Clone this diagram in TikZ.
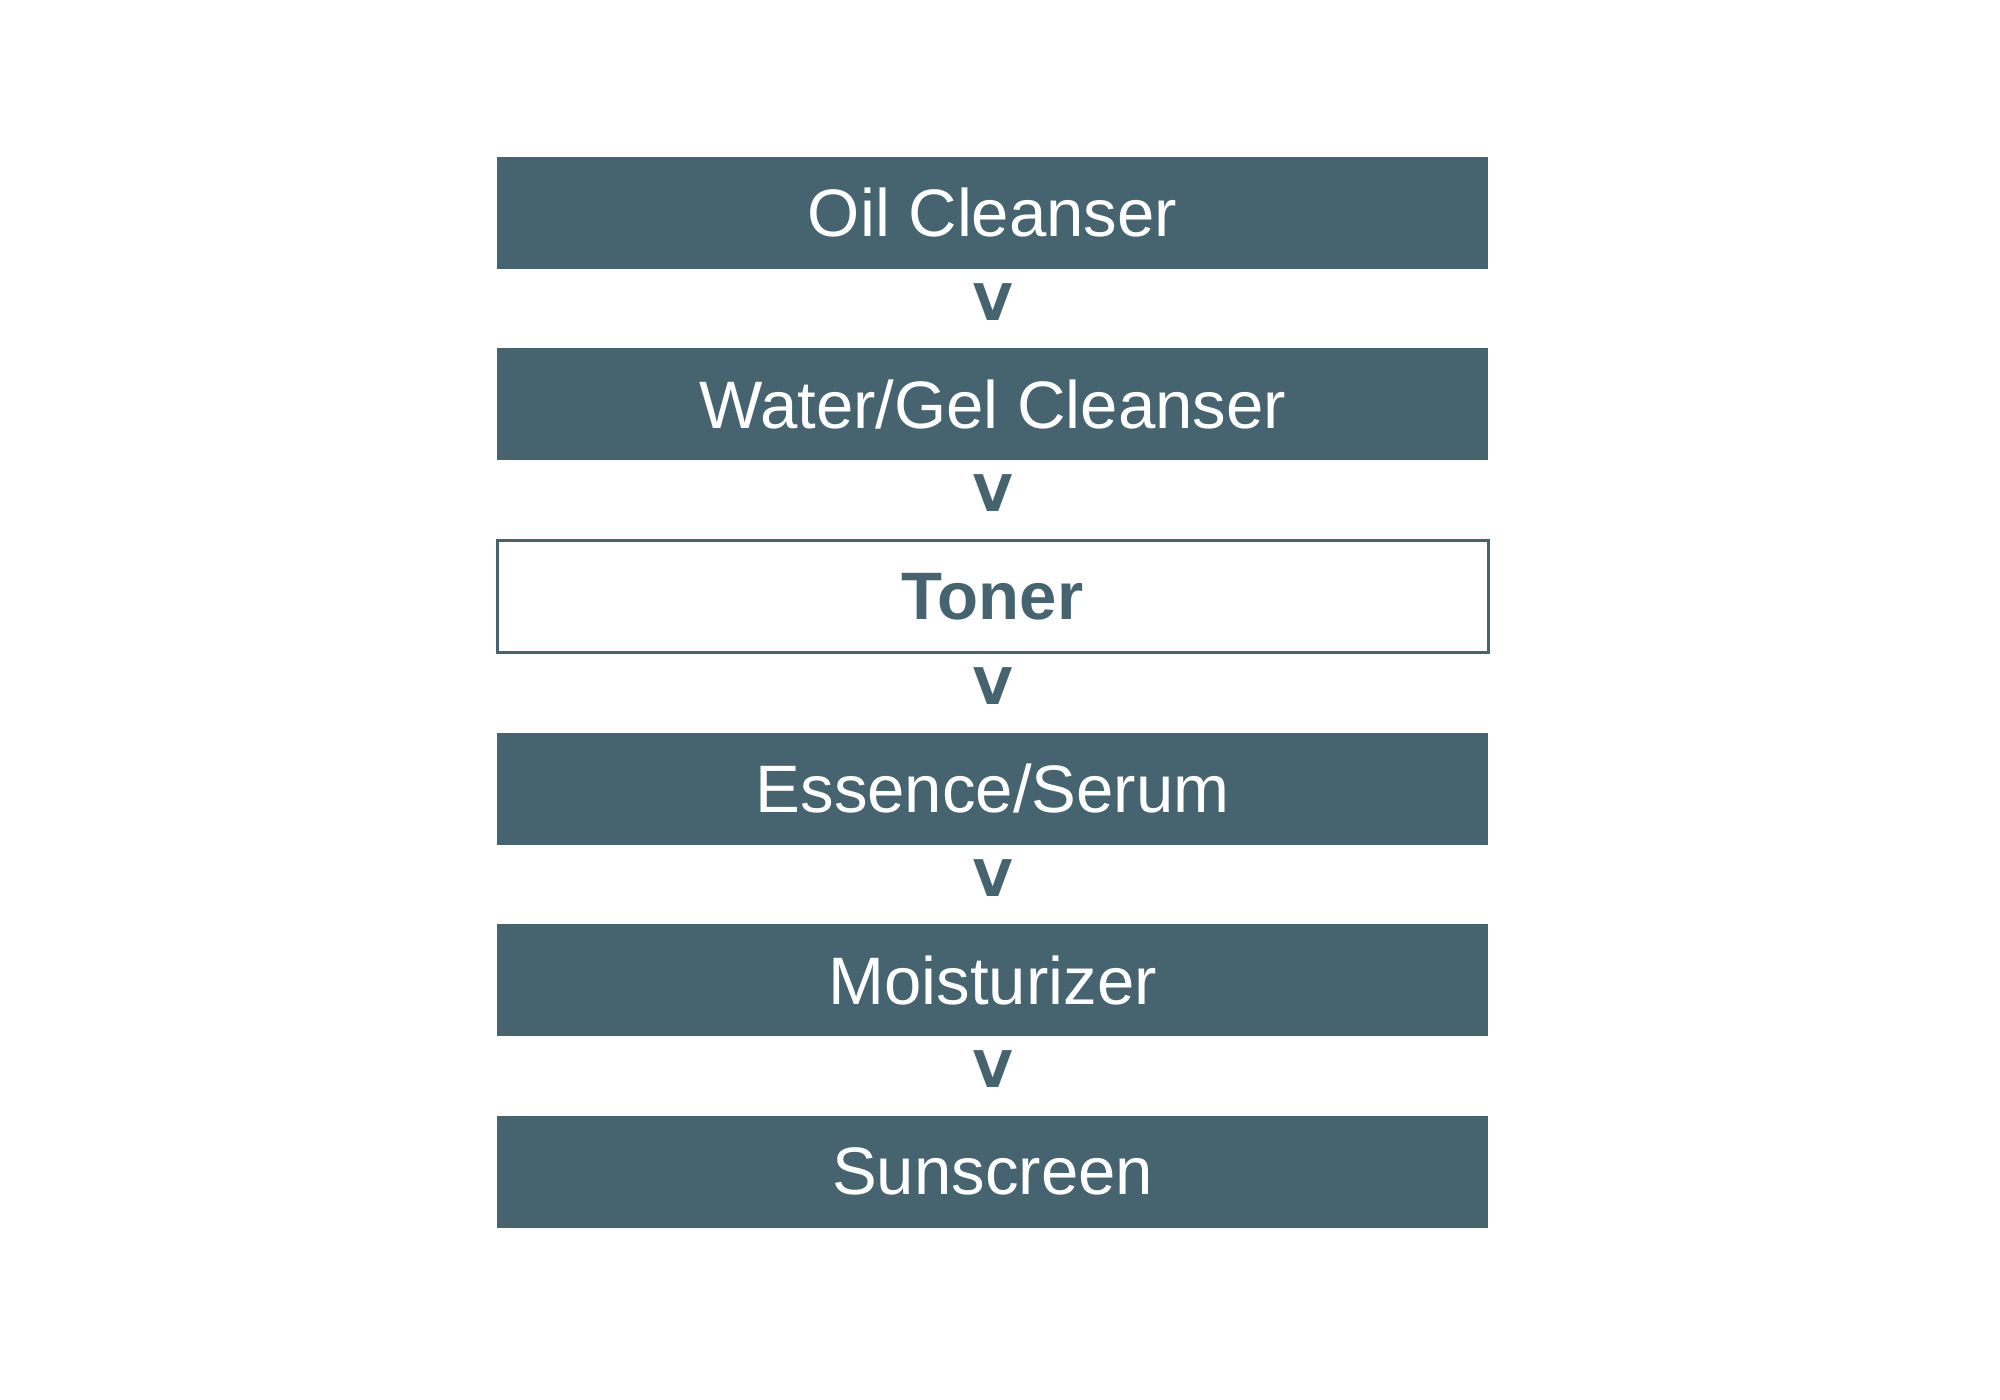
\documentclass[tikz,border=0pt]{standalone}
\usepackage{fontspec}
\setmainfont{Liberation Sans}
\newfontfamily\vfont{DejaVu Sans}
\usetikzlibrary{positioning,calc}

\definecolor{slate}{HTML}{466370}

\tikzset{
    stepbox/.style={rectangle, fill=slate, text=white, minimum width=9.91cm,
        minimum height=1.12cm, inner sep=0pt,
        font=\fontsize{19.1}{22}\selectfont},
    keybox/.style={stepbox, fill=white, draw=slate, line width=0.9pt,
        text=slate, font=\fontsize{19.1}{22}\selectfont\bfseries},
    vmark/.style={text=slate, inner sep=0pt, font=\vfont\fontsize{14.4}{17}\selectfont\bfseries}
}

\begin{document}
\begin{tikzpicture}

\fill [white] (0,0) rectangle (20,14);
\useasboundingbox (0,0) rectangle (20,14);

\node [stepbox] (oil) at (9.926,11.87) {Oil Cleanser};
\node [stepbox, below=0.78cm of oil] (water) {Water/Gel Cleanser};
\node [keybox, below=0.78cm of water] (toner) {Toner};
\node [stepbox, below=0.78cm of toner] (essence) {Essence/Serum};
\node [stepbox, below=0.78cm of essence] (moist) {Moisturizer};
\node [stepbox, below=0.78cm of moist] (sun) {Sunscreen};

\foreach \a/\b in {oil/water,water/toner,toner/essence,essence/moist,moist/sun}
    \node [vmark] (v-\a) at ($(\a.south)!0.5!(\b.north)+(0,0.07)$) {V};

\end{tikzpicture}
\end{document}
